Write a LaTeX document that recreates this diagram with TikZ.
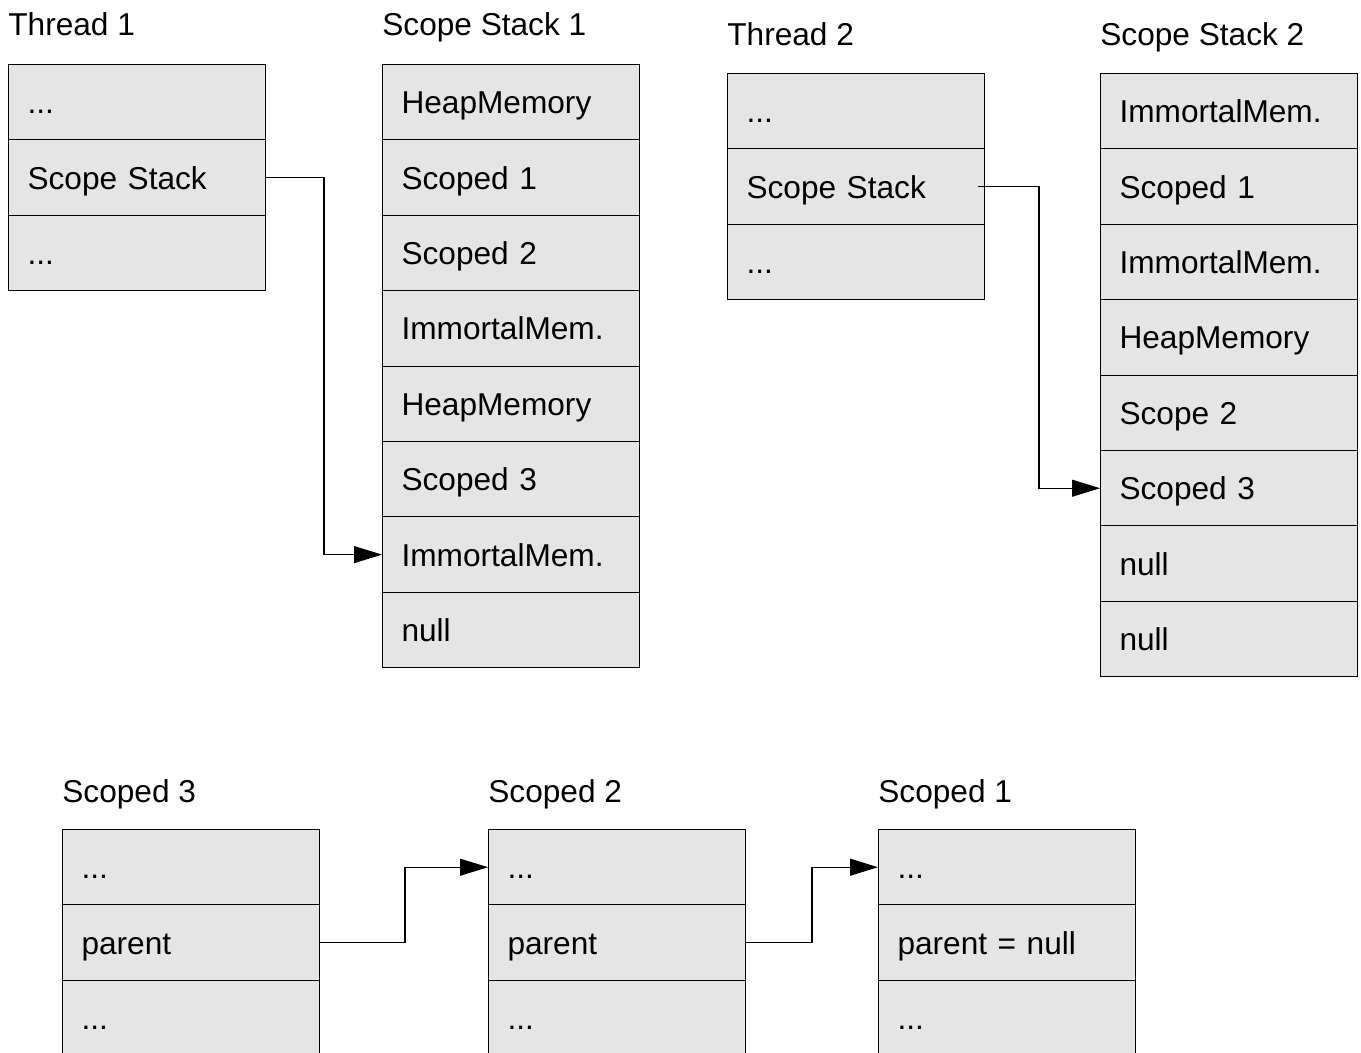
\documentclass[tikz,border=0pt]{standalone}
\usepackage{fontspec}
\setmainfont{Liberation Sans}
\usetikzlibrary{arrows.meta}
\definecolor{cellgray}{RGB}{229,229,229}
\newcommand{\punkte}{...}
\tikzset{
	cell/.style={draw, fill=cellgray, line width=0.6pt, anchor=north west,
		minimum height=1.508cm, text width=4.38cm, inner xsep=0.38cm, inner ysep=0pt,
		align=left, text height=13pt, text depth=0pt},
	title/.style={anchor=base west, inner sep=0pt},
	pointer/.style={line width=0.6pt, -{Triangle[length=0.56cm,width=0.34cm]}},
}
\begin{document}
\begin{tikzpicture}[x=0.02cm, y=-0.02cm, font=\fontsize{18}{22}\selectfont]
	\clip (0,0) rectangle (1361,1053);%Rand

	\node[title] (t1title) at (8,36) {Thread 1};
	\foreach \txt [count=\i] in {\punkte, Scope Stack, \punkte}
		\node[cell] (t1-\i) at (8,{64+75.4*(\i-1)}) {\txt};%Thread 1

	\node[title] (s1title) at (382,36) {Scope Stack 1};
	\foreach \txt [count=\i] in {HeapMemory, Scoped 1, Scoped 2, ImmortalMem., HeapMemory, Scoped 3, ImmortalMem., null}
		\node[cell] (s1-\i) at (382,{64+75.4*(\i-1)}) {\txt};%Stack 1

	\node[title] (t2title) at (727,46) {Thread 2};
	\foreach \txt [count=\i] in {\punkte, Scope Stack, \punkte}
		\node[cell] (t2-\i) at (727,{73+75.4*(\i-1)}) {\txt};%Thread 2

	\node[title] (s2title) at (1100,46) {Scope Stack 2};
	\foreach \txt [count=\i] in {ImmortalMem., Scoped 1, ImmortalMem., HeapMemory, Scope 2, Scoped 3, null, null}
		\node[cell] (s2-\i) at (1100,{73+75.4*(\i-1)}) {\txt};%Stack 2

	\node[title] (b3title) at (62,802) {Scoped 3};
	\foreach \txt [count=\i] in {\punkte, parent, \punkte}
		\node[cell] (b3-\i) at (62,{829+75.4*(\i-1)}) {\txt};

	\node[title] (b2title) at (488,802) {Scoped 2};
	\foreach \txt [count=\i] in {\punkte, parent, \punkte}
		\node[cell] (b2-\i) at (488,{829+75.4*(\i-1)}) {\txt};

	\node[title] (b1title) at (878,802) {Scoped 1};
	\foreach \txt [count=\i] in {\punkte, parent = null, \punkte}
		\node[cell] (b1-\i) at (878,{829+75.4*(\i-1)}) {\txt};

	\draw[pointer] (t1-2.east) -- ++(58,0) |- (s1-7.west);
	\draw[pointer] ([xshift=-0.14cm]t2-2.east) -- ++(61,0) |- (s2-6.west);
	\draw[pointer] (b3-2.east) -- ++(85,0) |- (b2-1.west);%parent
	\draw[pointer] (b2-2.east) -- ++(66,0) |- (b1-1.west);%parent

\end{tikzpicture}
\end{document}
